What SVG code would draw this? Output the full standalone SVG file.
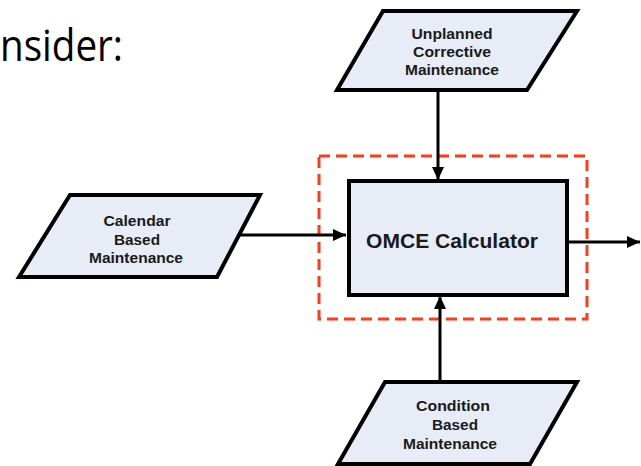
<svg xmlns="http://www.w3.org/2000/svg" width="641" height="466" viewBox="0 0 641 466">
<style>
.shape{fill:#E7ECF7;stroke:#000;stroke-width:4;stroke-linejoin:miter}
.lbl{font-family:"Liberation Sans",Arial,sans-serif;font-weight:bold;font-size:15px;fill:#1a1a1a;text-anchor:middle}
.big{font-size:20px}
.conn{stroke:#000;stroke-width:3;fill:none}
.frame{fill:none;stroke:#FF3B1A;stroke-width:3;stroke-dasharray:11 6}
</style>
<defs>
<marker id="arr" markerUnits="userSpaceOnUse" markerWidth="14" markerHeight="12" refX="13" refY="6" orient="auto">
<path d="M0,0 L13,6 L0,12 z" fill="#000"/>
</marker>
</defs>
<text x="0" y="61" font-family="'Open Sans','Liberation Sans',sans-serif" font-size="43" fill="#000" textLength="123" lengthAdjust="spacingAndGlyphs">nsider:</text>
<rect class="frame" x="319" y="156" width="268" height="163"/>
<g id="connectors">
<line class="conn" x1="438" y1="90" x2="438" y2="180" marker-end="url(#arr)"/>
<line class="conn" x1="240" y1="235" x2="346" y2="235" marker-end="url(#arr)"/>
<line class="conn" x1="440" y1="382" x2="440" y2="296" marker-end="url(#arr)"/>
<line class="conn" x1="568" y1="242" x2="640" y2="242" marker-end="url(#arr)"/>
</g>
<g id="unplanned">
<polygon class="shape" points="383,11 577,11 527,90 337,90"/>
<text class="lbl" x="452" y="39" textLength="81" lengthAdjust="spacingAndGlyphs">Unplanned</text>
<text class="lbl" x="452" y="57" textLength="78" lengthAdjust="spacingAndGlyphs">Corrective</text>
<text class="lbl" x="452" y="75" textLength="94" lengthAdjust="spacingAndGlyphs">Maintenance</text>
</g>
<g id="calendar">
<polygon class="shape" points="70,195 260,195 217,277 19,277"/>
<text class="lbl" x="137" y="226" textLength="67" lengthAdjust="spacingAndGlyphs">Calendar</text>
<text class="lbl" x="137" y="245" textLength="46" lengthAdjust="spacingAndGlyphs">Based</text>
<text class="lbl" x="136" y="263" textLength="94" lengthAdjust="spacingAndGlyphs">Maintenance</text>
</g>
<g id="omce">
<rect class="shape" x="349" y="181" width="218" height="114"/>
<text class="lbl big" x="452" y="248" textLength="172" lengthAdjust="spacingAndGlyphs">OMCE Calculator</text>
</g>
<g id="condition">
<polygon class="shape" points="385,382 577,382 530,464 338,464"/>
<text class="lbl" x="453" y="411" textLength="74" lengthAdjust="spacingAndGlyphs">Condition</text>
<text class="lbl" x="455" y="430" textLength="46" lengthAdjust="spacingAndGlyphs">Based</text>
<text class="lbl" x="450" y="449" textLength="94" lengthAdjust="spacingAndGlyphs">Maintenance</text>
</g>
</svg>
